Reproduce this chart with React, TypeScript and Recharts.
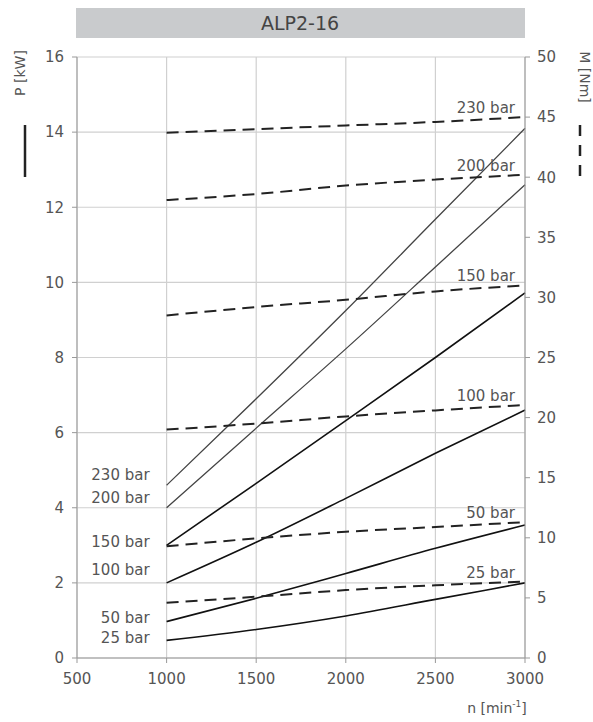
import { LineChart, Line, XAxis, YAxis, CartesianGrid } from "recharts"

const RPM = [1000, 1500, 2000, 2500, 3000]
const RPM_TICKS = [500, 1000, 1500, 2000, 2500, 3000]
const POWER_TICKS = [0, 2, 4, 6, 8, 10, 12, 14, 16]
const TORQUE_TICKS = [0, 5, 10, 15, 20, 25, 30, 35, 40, 45, 50]

const PRESSURES = ["230 bar", "200 bar", "150 bar", "100 bar", "50 bar", "25 bar"]

// power P [kW], read at each RPM value
const POWER_230 = [4.6, 6.9, 9.25, 11.68, 14.1]
const POWER_200 = [4.0, 6.12, 8.23, 10.41, 12.6]
const POWER_150 = [3.0, 4.65, 6.32, 8.0, 9.72]
const POWER_100 = [2.0, 3.08, 4.25, 5.45, 6.6]
const POWER_50 = [0.97, 1.59, 2.25, 2.92, 3.54]
const POWER_25 = [0.47, 0.76, 1.12, 1.56, 2.0]

// torque M [Nm]
const TORQUE_230 = [43.7, 44.0, 44.3, 44.6, 45.0]
const TORQUE_200 = [38.1, 38.6, 39.3, 39.8, 40.2]
const TORQUE_150 = [28.5, 29.2, 29.8, 30.5, 31.0]
const TORQUE_100 = [19.0, 19.5, 20.1, 20.6, 21.05]
const TORQUE_50 = [9.3, 9.95, 10.5, 10.9, 11.3]
const TORQUE_25 = [4.6, 5.1, 5.65, 6.05, 6.35]

const POWER = [POWER_230, POWER_200, POWER_150, POWER_100, POWER_50, POWER_25]
const TORQUE = [TORQUE_230, TORQUE_200, TORQUE_150, TORQUE_100, TORQUE_50, TORQUE_25]

const data = RPM.map((rpm, i) => {
  const row: Record<string, number> = { rpm }
  PRESSURES.forEach((_, k) => {
    row["P" + k] = POWER[k][i]
    row["M" + k] = TORQUE[k][i]
  })
  return row
})

const FONT = "'DejaVu Sans', sans-serif"
const TEXT = "#555"
const LEFT_LABEL_DY = [-10, -10, -3, -13, -4, -2]
const tick = { fontSize: 15, fill: TEXT, fontFamily: FONT }

function startLabel(k: number) {
  return (props: any) => {
    if (props.index !== 0) return null
    return (
      <text
        key={"s" + k}
        x={props.x - 17}
        y={props.y + LEFT_LABEL_DY[k] + 5}
        textAnchor="end"
        fontSize={15}
        fill={TEXT}
        fontFamily={FONT}
      >
        {PRESSURES[k]}
      </text>
    )
  }
}

function endLabel(k: number) {
  return (props: any) => {
    if (props.index !== RPM.length - 1) return null
    return (
      <text
        key={"e" + k}
        x={props.x - 10}
        y={props.y - 4}
        textAnchor="end"
        fontSize={15}
        fill={TEXT}
        fontFamily={FONT}
      >
        {PRESSURES[k]}
      </text>
    )
  }
}

export default function App() {
  return (
    <div style={{ position: "absolute", left: 0, top: 0, width: 593, height: 722, background: "#fff" }}>
      <LineChart
        width={593}
        height={722}
        data={data}
        margin={{ top: 57, right: 8, bottom: 24, left: 17 }}
      >
        <CartesianGrid yAxisId="left" stroke="#d0d0d0" strokeWidth={1.2} />
        <XAxis
          type="number"
          dataKey="rpm"
          domain={[500, 3000]}
          ticks={RPM_TICKS}
          height={40}
          stroke="#999"
          tick={tick}
          tickSize={5}
          tickMargin={10}
        />
        <YAxis
          yAxisId="left"
          domain={[0, 16]}
          ticks={POWER_TICKS}
          width={60}
          stroke="#999"
          tick={tick}
          tickSize={5}
          tickMargin={8}
        />
        <YAxis
          yAxisId="right"
          orientation="right"
          domain={[0, 50]}
          ticks={TORQUE_TICKS}
          width={60}
          stroke="#999"
          tick={tick}
          tickSize={5}
          tickMargin={7}
        />
        {PRESSURES.map((p, k) => (
          <Line
            key={"P" + k}
            yAxisId="left"
            type="monotone"
            dataKey={"P" + k}
            stroke={k < 2 ? "#444" : "#111"}
            strokeWidth={k < 2 ? 1.3 : 1.6}
            dot={false}
            label={startLabel(k)}
            isAnimationActive={false}
          />
        ))}
        {PRESSURES.map((p, k) => (
          <Line
            key={"M" + k}
            yAxisId="right"
            type="monotone"
            dataKey={"M" + k}
            stroke="#222"
            strokeWidth={2}
            strokeDasharray="12 7"
            dot={false}
            label={endLabel(k)}
            isAnimationActive={false}
          />
        ))}
      </LineChart>
      <svg
        width={593}
        height={722}
        style={{ position: "absolute", left: 0, top: 0, pointerEvents: "none" }}
        fontFamily={FONT}
      >
        <rect x={76} y={8} width={449} height={30} fill="#c9cbcd" />
        <text x={300} y={30} textAnchor="middle" fontSize={19} fill="#444">
          ALP2-16
        </text>
        <text x={31} y={79} transform="rotate(-90 25 79)" textAnchor="middle" fontSize={14} fill={TEXT}>
          P [kW]
        </text>
        <line x1={25} y1={125} x2={25} y2={177} stroke="#222" strokeWidth={2.5} />
        <text x={575} y={82} transform="rotate(90 580 82)" textAnchor="middle" fontSize={14} fill={TEXT}>
          M [Nm]
        </text>
        <line x1={580} y1={125} x2={580} y2={177} stroke="#222" strokeWidth={2.5} strokeDasharray="11 9" />
        <text x={497} y={713} textAnchor="middle" fontSize={14} fill={TEXT}>
          n [min<tspan dy={-6} fontSize={9}>-1</tspan>
          <tspan dy={6}>]</tspan>
        </text>
      </svg>
    </div>
  )
}
